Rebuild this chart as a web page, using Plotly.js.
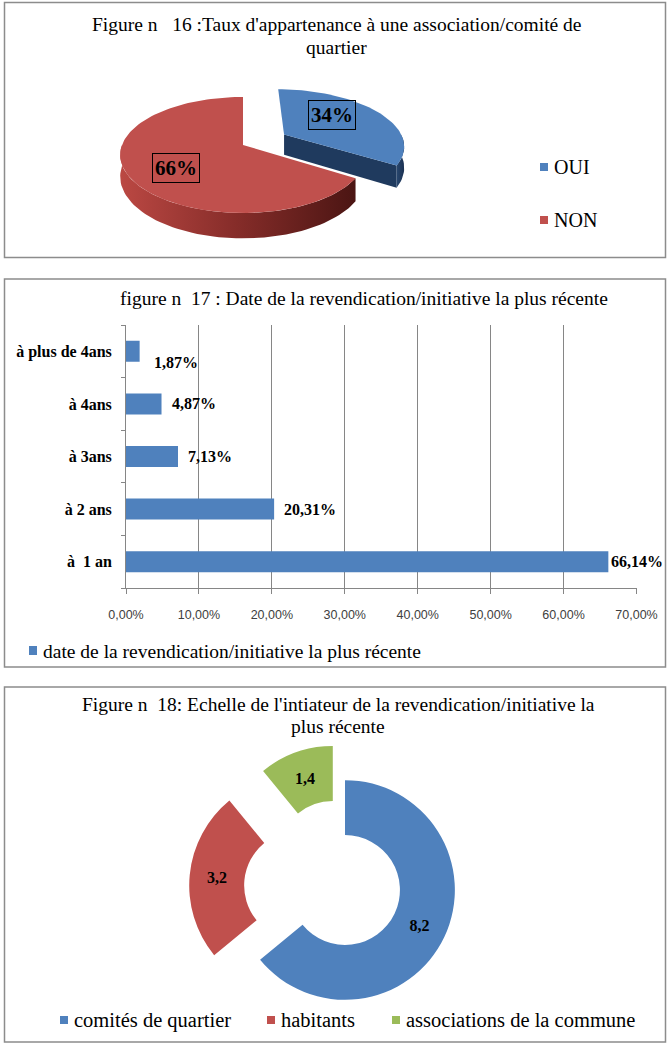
<!DOCTYPE html>
<html>
<head>
<meta charset="utf-8">
<script src="https://cdn.plot.ly/plotly-3.0.1.min.js"></script>
<style>
  html, body { margin: 0; padding: 0; background: #fff; }
  #chart { width: 669px; height: 1047px; }
</style>
</head>
<body>
<div id="chart"></div>
<script>
// ---- Figure 16: membership of a neighbourhood association / committee ----
const memberCats = ['OUI', 'NON'];
const memberVals = [34, 66];

// ---- Figure 17: date of the most recent claim / initiative (%) ----
const periodCats = ['à\u00a0 1 an', 'à 2 ans', 'à 3ans', 'à 4ans', 'à plus de 4ans'];
const periodVals = [66.14, 20.31, 7.13, 4.87, 1.87];
const periodSeries = 'date de la revendication/initiative la plus récente';

// ---- Figure 18: who initiated the most recent claim / initiative ----
const initCats = ['comités de quartier', 'habitants', 'associations de la commune'];
const initVals = [8.2, 3.2, 1.4];

// ---- titles (one entry per line) ----
const title16 = ['Figure n\u00a0\u00a0 16 :Taux d\'appartenance à une association/comité de', 'quartier'];
const title17 = ['figure n\u00a0 17 : Date de la revendication/initiative la plus récente'];
const title18 = ['Figure n\u00a0 18: Echelle de l\'intiateur de la revendication/initiative la', 'plus récente'];

// ---- page helpers ----
const W = 669, H = 1047;
const fx = x => x / W;
const fy = y => 1 - y / H;
const SERIF = 'Liberation Serif, "Times New Roman", serif';
const SANS = 'Liberation Sans, Arial, sans-serif';
const BLUE = '#4F81BD', RED = '#C0504D', GREEN = '#9BBB59';
const frNum = (v, d) => (d === undefined ? String(v) : v.toFixed(d)).replace('.', ',');

const traces = [];
const shapes = [];
const annotations = [];

// ================= Figure 16: tilted 3-D pie (perspective view) =================
// cx, cy: projected pie centre; a, b: radii; q: perspective strength; depth: wall height
const G16 = { cx: 243, cy: 145, a: 121, b: 56.3, q: 0.172, depth: 21, pull: [0.4, 0], steps: 80 };
const top16 = [BLUE, RED];
const sideGrad16 = [
  [[0, '#28476f'], [1, '#1b3152']],
  [[0, '#bb4843'], [0.5, '#852c29'], [1, '#4b1513']]
];
const cutColor16 = ['#1f3a5e', '#7a2724'];

const tot16 = memberVals.reduce((s, v) => s + v, 0);
let acc16 = 0;
const slices16 = memberVals.map((v, i) => {
  const t0 = acc16 / tot16 * 2 * Math.PI;
  acc16 += v;
  const t1 = acc16 / tot16 * 2 * Math.PI;
  return { i, t0, t1, mid: (t0 + t1) / 2, p: G16.pull[i] };
});

// point at angle t (clockwise from the back), radius fraction f, on top or bottom face
function rim16(s, t, f, down) {
  const u = f * Math.sin(t) + s.p * Math.sin(s.mid);
  const w = f * Math.cos(t) + s.p * Math.cos(s.mid);
  const k = 1 / (1 + G16.q * w);
  return [G16.cx + G16.a * u * k, G16.cy - G16.b * w * k + (down ? G16.depth * k : 0)];
}
function arc16(s, ta, tb, down) {
  const pts = [];
  const n = Math.max(2, Math.ceil(G16.steps * Math.abs(tb - ta) / Math.PI));
  for (let j = 0; j <= n; j++) pts.push(rim16(s, ta + (tb - ta) * j / n, 1, down));
  return pts;
}
function poly16(pts, extra) {
  const xs = pts.map(p => p[0]), ys = pts.map(p => p[1]);
  xs.push(xs[0]); ys.push(ys[0]);
  return Object.assign({
    type: 'scatter', mode: 'lines', x: xs, y: ys, fill: 'toself',
    line: { width: 0 }, hoverinfo: 'skip', showlegend: false,
    xaxis: 'x2', yaxis: 'y2'
  }, extra);
}

// back slices first, front slices last
[...slices16].sort((p, q) => Math.cos(q.mid) - Math.cos(p.mid)).forEach(s => {
  const c = rim16(s, 0, 0, false);
  const cDown = rim16(s, 0, 0, true);
  // radial cut faces turned towards the viewer
  [[s.t1, Math.sin(s.t1) > 0.01], [s.t0, Math.sin(s.t0) < -0.01]].forEach(([t, vis]) => {
    if (!vis) return;
    traces.push(poly16([c, rim16(s, t, 1, false), rim16(s, t, 1, true), cDown],
      { fillcolor: cutColor16[s.i] }));
  });
  // outer wall on the front half
  const ta = Math.max(s.t0, Math.PI / 2), tb = Math.min(s.t1, 3 * Math.PI / 2);
  if (tb > ta) {
    const pts = arc16(s, ta, tb, false).concat(arc16(s, ta, tb, true).reverse());
    traces.push(poly16(pts, {
      fillcolor: cutColor16[s.i],
      fillgradient: { type: 'horizontal', colorscale: sideGrad16[s.i] }
    }));
  }
  // top face
  traces.push(poly16([c].concat(arc16(s, s.t0, s.t1, false)), { fillcolor: top16[s.i] }));
});

// percentage labels in framed boxes
const labelFrac16 = [0.5, 0.6];
const labelShift16 = [7, -6];
slices16.forEach(s => {
  const p = rim16(s, s.mid, labelFrac16[s.i], false);
  annotations.push({
    xref: 'x2', yref: 'y2', x: p[0], y: p[1], yshift: labelShift16[s.i],
    text: Math.round(memberVals[s.i] / tot16 * 100) + '%', showarrow: false,
    font: { family: SERIF, size: 21, weight: 'bold', color: '#000' },
    bordercolor: '#000', borderwidth: 1, borderpad: 2
  });
});

// legend of figure 16
memberCats.forEach((cat, i) => {
  const yc = 167 + i * 53;
  shapes.push({ type: 'rect', xref: 'paper', yref: 'paper',
    x0: fx(540), x1: fx(548), y0: fy(yc - 4), y1: fy(yc + 4),
    fillcolor: top16[i], line: { width: 0 } });
  annotations.push({ xref: 'paper', yref: 'paper', x: fx(552), y: fy(yc),
    xanchor: 'left', yanchor: 'middle', text: cat, showarrow: false,
    font: { family: SERIF, size: 20, color: '#000' } });
});

// ================= Figure 17: horizontal bars =================
traces.push({
  type: 'bar', orientation: 'h', x: periodVals, y: periodCats,
  width: 0.4, marker: { color: BLUE, line: { width: 0 } },
  hoverinfo: 'skip', showlegend: false, xaxis: 'x', yaxis: 'y'
});
const barNudge = { 'à plus de 4ans': [12, -11], 'à\u00a0 1 an': [1, 0] };
periodCats.forEach((cat, i) => {
  const n = barNudge[cat] || [8, 0];
  annotations.push({
    xref: 'x', yref: 'y', x: periodVals[i], y: cat, xanchor: 'left', yanchor: 'middle',
    xshift: n[0], yshift: n[1], text: frNum(periodVals[i], 2) + '%', showarrow: false,
    font: { family: SERIF, size: 16, weight: 'bold', color: '#000' }
  });
});
shapes.push({ type: 'rect', xref: 'paper', yref: 'paper',
  x0: fx(29), x1: fx(37), y0: fy(655), y1: fy(646), fillcolor: BLUE, line: { width: 0 } });
annotations.push({ xref: 'paper', yref: 'paper', x: fx(41), y: fy(651),
  xanchor: 'left', yanchor: 'middle', text: periodSeries, showarrow: false,
  font: { family: SERIF, size: 19.5, color: '#000' } });

// ================= Figure 18: exploded doughnut =================
traces.push({
  type: 'pie', labels: initCats, values: initVals,
  text: initVals.map(v => frNum(v)), textinfo: 'text', textposition: 'inside',
  insidetextorientation: 'horizontal',
  textfont: { family: SERIF, size: 16, weight: 'bold', color: '#000' },
  hole: 0.5, sort: false, direction: 'clockwise', rotation: 0,
  pull: [0, 0.42, 0.33],
  marker: { colors: [BLUE, RED, GREEN], line: { width: 0 } },
  domain: { x: [fx(189), fx(501)], y: [fy(1046), fy(734)] },
  hoverinfo: 'skip', showlegend: false
});
const legX18 = [60, 267, 392];
initCats.forEach((cat, i) => {
  shapes.push({ type: 'rect', xref: 'paper', yref: 'paper',
    x0: fx(legX18[i]), x1: fx(legX18[i] + 8), y0: fy(1024), y1: fy(1016),
    fillcolor: [BLUE, RED, GREEN][i], line: { width: 0 } });
  annotations.push({ xref: 'paper', yref: 'paper', x: fx(legX18[i] + 12), y: fy(1020),
    xanchor: 'left', yanchor: 'middle', text: cat, showarrow: false,
    font: { family: SERIF, size: 20.5, color: '#000' } });
});

// ================= titles and frames =================
[[title16, 336.5, 25], [title17, 364, 298], [title18, 338, 704]].forEach(([lines, x, y]) => {
  lines.forEach((t, j) => {
    annotations.push({ xref: 'paper', yref: 'paper', x: fx(x), y: fy(y + 22.5 * j),
      xanchor: 'center', yanchor: 'middle', text: t, showarrow: false,
      font: { family: SERIF, size: 19.5, color: '#000' } });
  });
});
[[2.5, 257.5], [279, 667], [687, 1042]].forEach(([y0, y1]) => {
  shapes.push({ type: 'rect', xref: 'paper', yref: 'paper',
    x0: fx(4.5), x1: fx(665.5), y0: fy(y1), y1: fy(y0),
    line: { color: '#8c8c8c', width: 1.5 }, fillcolor: 'rgba(0,0,0,0)' });
});

const GRID = '#868686';
const layout = {
  width: W, height: H,
  margin: { l: 0, r: 0, t: 0, b: 0 },
  paper_bgcolor: '#fff', plot_bgcolor: 'rgba(0,0,0,0)',
  separators: ', ',
  showlegend: false,
  xaxis: {
    domain: [fx(126), fx(636.5)], range: [0, 70], tick0: 0, dtick: 10,
    tickformat: '.2f', ticksuffix: '%',
    showgrid: true, gridcolor: GRID, gridwidth: 1, zeroline: false,
    showline: true, linecolor: GRID, linewidth: 1,
    ticks: 'outside', ticklen: 5, tickcolor: GRID, ticklabelstandoff: 10,
    tickfont: { family: SANS, size: 12.5, color: '#404040' },
    anchor: 'y', fixedrange: true
  },
  yaxis: {
    domain: [fy(588), fy(325)], type: 'category',
    categoryorder: 'array', categoryarray: periodCats, range: [-0.5, 4.5],
    showgrid: false, zeroline: false, showline: true, linecolor: GRID, linewidth: 1,
    ticks: 'outside', tickson: 'boundaries', ticklen: 4, tickcolor: GRID,
    ticklabelstandoff: 10,
    tickfont: { family: SERIF, size: 16, weight: 'bold', color: '#000' },
    anchor: 'x', fixedrange: true
  },
  xaxis2: { domain: [0, 1], range: [0, W], visible: false, anchor: 'y2', fixedrange: true },
  yaxis2: { domain: [fy(260), 1], range: [260, 0], visible: false, anchor: 'x2', fixedrange: true },
  shapes: shapes,
  annotations: annotations
};

Plotly.newPlot('chart', traces, layout, { displayModeBar: false, staticPlot: true });
</script>
</body>
</html>
